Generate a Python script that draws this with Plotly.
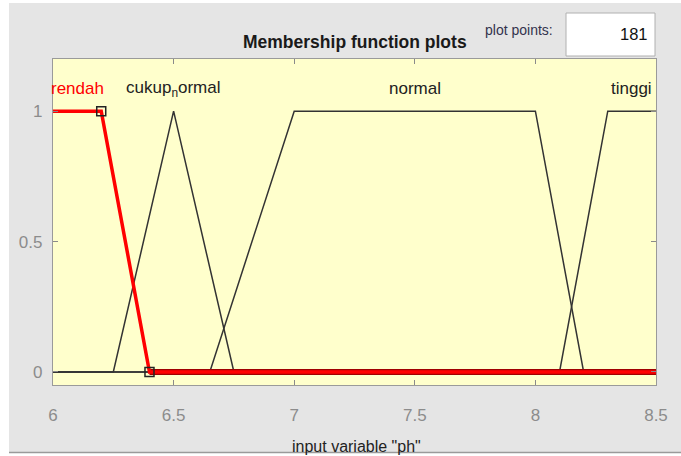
import plotly.graph_objects as go

# ---- data ----
x_ticks = [6, 6.5, 7, 7.5, 8, 8.5]
x_tick_labels = ["6", "6.5", "7", "7.5", "8", "8.5"]
y_ticks = [0, 0.5, 1]
y_tick_labels = ["0", "0.5", "1"]

rendah_x = [6, 6.2, 6.4, 8.5]
rendah_y = [1, 1, 0, 0]
cukup_x = [6, 6.25, 6.5, 6.75, 8.5]
cukup_y = [0, 0, 1, 0, 0]
normal_x = [6, 6.65, 7, 8, 8.2, 8.5]
normal_y = [0, 0, 1, 1, 0, 0]
tinggi_x = [6, 8.1, 8.3, 8.5]
tinggi_y = [0, 0, 1, 1]

mf_names = ["rendah", "cukup<sub>n</sub>ormal", "normal", "tinggi"]
mf_label_x = [6.1, 6.5, 7.5, 8.4]
mf_label_y = 1.085

W, H = 681, 456
L, R, T, B = 53, 656, 59, 385


def px(x):
    return (x - L) / (R - L)


def py(y):
    return (B - y) / (B - T)


FONT = "Liberation Sans, Arial, sans-serif"
BLACK = "#333333"

fig = go.Figure()
for xs, ys in [(cukup_x, cukup_y), (normal_x, normal_y), (tinggi_x, tinggi_y)]:
    fig.add_trace(go.Scatter(x=xs, y=ys, mode="lines",
                             line=dict(color=BLACK, width=1.5),
                             showlegend=False, hoverinfo="skip"))

# selected MF (rendah) in red
fig.add_trace(go.Scatter(x=rendah_x[2:], y=rendah_y[2:], mode="lines",
                         line=dict(color="#a00000", width=6),
                         showlegend=False, hoverinfo="skip"))
fig.add_trace(go.Scatter(x=rendah_x, y=rendah_y, mode="lines",
                         line=dict(color="#ff0000", width=3.5),
                         showlegend=False, hoverinfo="skip"))
fig.add_trace(go.Scatter(x=rendah_x[1:3], y=rendah_y[1:3], mode="markers",
                         marker=dict(symbol="square-open", size=9,
                                     color="#222222", line=dict(width=1.5)),
                         showlegend=False, hoverinfo="skip"))

annotations = []
for name, lx in zip(mf_names, mf_label_x):
    annotations.append(dict(x=lx, y=mf_label_y, xref="x", yref="y", text=name,
                            showarrow=False, xanchor="center", yanchor="middle",
                            font=dict(family=FONT, size=17,
                                      color="#ff0000" if name == "rendah" else "#222222")))

annotations += [
    dict(x=px(355), y=py(42), xref="paper", yref="paper", xanchor="center", yanchor="middle",
         text="<b>Membership function plots</b>", showarrow=False,
         font=dict(family=FONT, size=17.5, color="#1a1a1a")),
    dict(x=px(519), y=py(30), xref="paper", yref="paper", xanchor="center", yanchor="middle",
         text="plot points:", showarrow=False,
         font=dict(family=FONT, size=14, color="#33334d")),
    dict(x=px(650), y=py(34), xref="paper", yref="paper", xanchor="right", yanchor="middle",
         text="181", showarrow=False,
         font=dict(family=FONT, size=16.5, color="#111111")),
    dict(x=px(356), y=py(446), xref="paper", yref="paper", xanchor="center", yanchor="middle",
         text='input variable "ph"', showarrow=False,
         font=dict(family=FONT, size=16, color="#222222")),
]

shapes = [
    # white outer margins
    dict(type="rect", xref="paper", yref="paper", x0=px(-5), x1=px(9),
         y0=py(470), y1=py(-5), fillcolor="white", line=dict(width=0), layer="below"),
    dict(type="rect", xref="paper", yref="paper", x0=px(-5), x1=px(700),
         y0=py(3), y1=py(-5), fillcolor="white", line=dict(width=0), layer="below"),
    dict(type="rect", xref="paper", yref="paper", x0=px(-5), x1=px(700),
         y0=py(470), y1=py(453), fillcolor="white", line=dict(width=0), layer="below"),
    dict(type="line", xref="paper", yref="paper", x0=px(9), x1=px(700),
         y0=py(452.5), y1=py(452.5), line=dict(color="#9a9a9a", width=1.5)),
    # plot points box
    dict(type="rect", xref="paper", yref="paper", x0=px(566), x1=px(655),
         y0=py(56), y1=py(13), fillcolor="white", line=dict(color="#b0b0b0", width=1)),
]

axis_common = dict(showgrid=False, zeroline=False, showline=True, linecolor="#9a9a9a",
                   linewidth=1.2, mirror="ticks", ticks="inside", ticklen=5,
                   tickcolor="#8a8a8a", tickwidth=1.2,
                   tickfont=dict(family=FONT, size=17, color="#8c8c8c"))

fig.update_layout(
    width=W, height=H,
    margin=dict(l=L, r=W - R, t=T, b=H - B),
    paper_bgcolor="#e5e5e5",
    plot_bgcolor="#ffffcc",
    xaxis=dict(range=[6, 8.5], tickvals=x_ticks, ticktext=x_tick_labels,
               ticklabelstandoff=14, **axis_common),
    yaxis=dict(range=[-0.05, 1.2], tickvals=y_ticks, ticktext=y_tick_labels,
               ticklabelstandoff=6, **axis_common),
    annotations=annotations,
    shapes=shapes,
)

fig.write_html("out.html",
               config={"displayModeBar": False},
               post_script="document.body.style.margin='0px';document.body.style.overflow='hidden';")
